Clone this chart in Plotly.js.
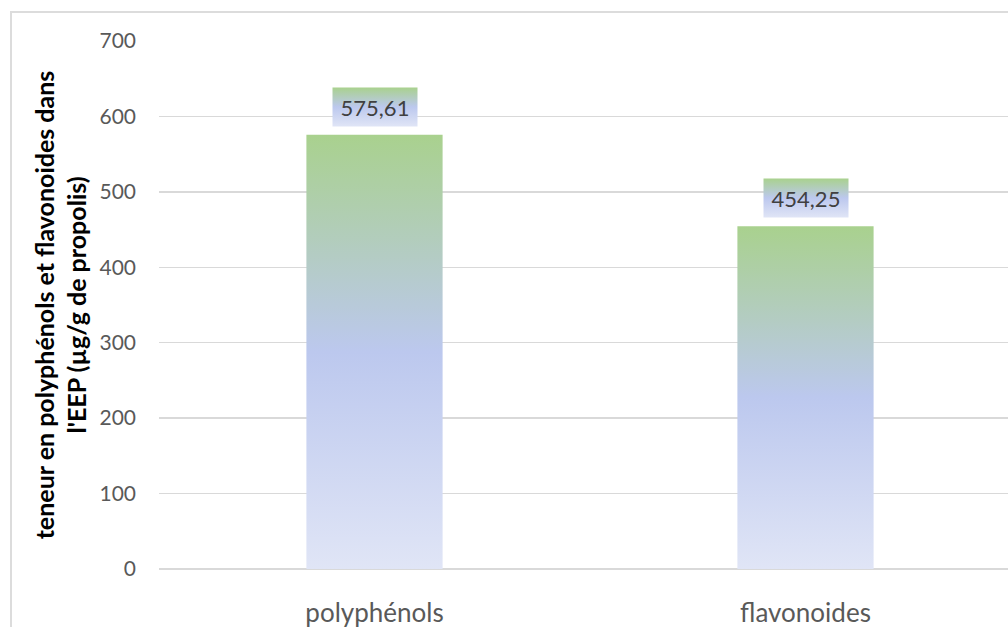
<!DOCTYPE html>
<html>
<head>
<meta charset="utf-8">
<script src="https://cdn.plot.ly/plotly-3.0.1.min.js"></script>
<style>
  html, body { margin: 0; padding: 0; background: #ffffff; overflow: hidden; }
  #wrap { position: relative; width: 1008px; height: 627px; overflow: hidden; }
  #chart { position: absolute; left: 0; top: 0; }
  #frame { position: absolute; left: 10px; top: 11px; width: 1100px; height: 700px;
           border-left: 2px solid #dcdcdc; border-top: 2px solid #dcdcdc; pointer-events: none; }
</style>
</head>
<body>
<div id="wrap">
  <div id="chart"></div>
  <div id="frame"></div>
</div>
<script>
// Teneur en polyphénols et flavonoïdes de l'EEP
const categories = ['polyphénols', 'flavonoides'];
const values = [575.61, 454.25];
const yTicks = [0, 100, 200, 300, 400, 500, 600, 700];
const yTitleLines = ['teneur en polyphénols et flavonoides dans', "l'EEP (µg/g de propolis)"];

const fmt = v => v.toFixed(2).replace('.', ',');

const gradStops = [
  [0, '#a9d18e'],
  [0.5, '#bcc8ee'],
  [1, '#e0e5f6']
];

const trace = {
  type: 'bar',
  x: categories,
  y: values,
  marker: { color: '#bcc8ee', line: { width: 0 } },
  width: 0.316,
  hoverinfo: 'skip'
};

const annotations = categories.map((c, i) => ({
  x: c,
  y: values[i],
  xref: 'x',
  yref: 'y',
  text: fmt(values[i]),
  showarrow: false,
  yanchor: 'bottom',
  xanchor: 'center',
  yshift: 8,
  width: 84,
  height: 38,
  bgcolor: '#bcc8ee',
  borderpad: 0,
  font: { family: 'Lato, "Open Sans", sans-serif', size: 22, color: '#404040' }
}));

const layout = {
  width: 1040,
  height: 640,
  margin: { l: 159, r: 18.5, t: 41, b: 71, pad: 0 },
  paper_bgcolor: '#ffffff',
  plot_bgcolor: '#ffffff',
  showlegend: false,
  bargap: 0.684,
  xaxis: {
    type: 'category',
    showgrid: false,
    showline: false,
    zeroline: false,
    ticks: '',
    ticklabelstandoff: 26,
    tickfont: { family: 'Lato, "Open Sans", sans-serif', size: 26, color: '#595959' },
    fixedrange: true
  },
  yaxis: {
    range: [0, 700],
    tickvals: yTicks,
    ticktext: yTicks.map(String),
    showgrid: true,
    gridcolor: '#d9d9d9',
    gridwidth: 1.5,
    zeroline: true,
    zerolinecolor: '#d9d9d9',
    zerolinewidth: 1.5,
    showline: false,
    ticks: '',
    ticklabelstandoff: 22,
    tickfont: { family: 'Lato, "Open Sans", sans-serif', size: 21, color: '#595959' },
    title: {
      text: yTitleLines.join('<br>'),
      standoff: 5,
      font: { family: 'Lato, "Open Sans", sans-serif', size: 25, color: '#000000', weight: 'bold' }
    },
    fixedrange: true
  },
  annotations: annotations
};

function addGradient(svg, id) {
  const ns = 'http://www.w3.org/2000/svg';
  let defs = svg.querySelector('defs');
  if (!defs) { defs = document.createElementNS(ns, 'defs'); svg.insertBefore(defs, svg.firstChild); }
  if (defs.querySelector('#' + id)) return;
  const lg = document.createElementNS(ns, 'linearGradient');
  lg.setAttribute('id', id);
  lg.setAttribute('x1', '0'); lg.setAttribute('y1', '0');
  lg.setAttribute('x2', '0'); lg.setAttribute('y2', '1');
  gradStops.forEach(([o, c]) => {
    const s = document.createElementNS(ns, 'stop');
    s.setAttribute('offset', o);
    s.setAttribute('stop-color', c);
    lg.appendChild(s);
  });
  defs.appendChild(lg);
}

function applyGradients(gd) {
  const svg = gd.querySelector('.main-svg');
  addGradient(svg, 'barGrad');
  gd.querySelectorAll('.barlayer .point path').forEach(p => { p.style.fill = 'url(#barGrad)'; });
  gd.querySelectorAll('.annotation rect.bg').forEach(r => { r.style.fill = 'url(#barGrad)'; });
}

Plotly.newPlot('chart', [trace], layout, { staticPlot: true, displayModeBar: false })
  .then(gd => applyGradients(gd));
</script>
</body>
</html>
